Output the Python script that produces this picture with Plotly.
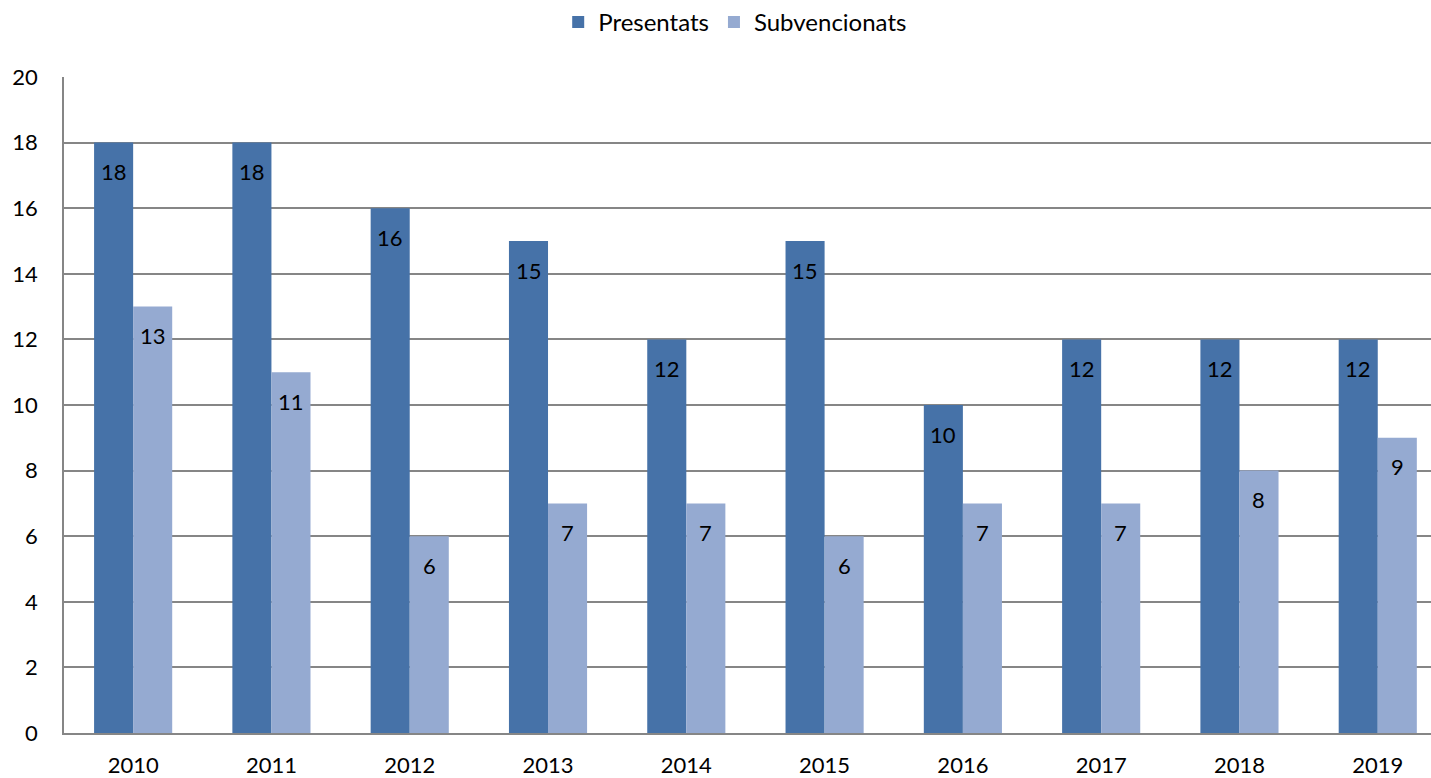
import plotly.graph_objects as go

years = ["2010", "2011", "2012", "2013", "2014", "2015", "2016", "2017", "2018", "2019"]
presentats = [18, 18, 16, 15, 12, 15, 10, 12, 12, 12]
subvencionats = [13, 11, 6, 7, 7, 6, 7, 7, 8, 9]

dark = "#4672A8"
light = "#95AAD1"
font_family = "Lato, Open Sans, sans-serif"

fig = go.Figure()
fig.add_trace(go.Bar(x=years, y=presentats, name="Presentats", marker=dict(color=dark, line=dict(width=0))))
fig.add_trace(go.Bar(x=years, y=subvencionats, name="Subvencionats", marker=dict(color=light, line=dict(width=0))))

ann = []
for i, (p, s) in enumerate(zip(presentats, subvencionats)):
    ann.append(dict(x=i, y=p, xref="x", yref="y", text=str(p), showarrow=False,
                    xshift=-19.5, yshift=-29, yanchor="middle", font=dict(size=22, color="black", family=font_family)))
    ann.append(dict(x=i, y=s, xref="x", yref="y", text=str(s), showarrow=False,
                    xshift=19.5, yshift=-29, yanchor="middle", font=dict(size=22, color="black", family=font_family)))

fig.update_layout(
    width=1431, height=778,
    margin=dict(l=64, r=0, t=77, b=45, autoexpand=False),
    paper_bgcolor="white", plot_bgcolor="white",
    barmode="group", bargap=0.435, bargroupgap=0,
    font=dict(family=font_family, size=22, color="black"),
    legend=dict(orientation="h", x=0.491, xanchor="center", y=1.0, yref="container", yanchor="top",
                font=dict(size=24), itemwidth=30, traceorder="normal"),
    annotations=ann,
    xaxis=dict(type="category", range=[-0.5, 9.385], showline=True, linecolor="#868686", linewidth=1.5,
               showgrid=False, ticks="", ticklabelstandoff=12, tickfont=dict(size=22), automargin=False),
    yaxis=dict(range=[0, 20], dtick=2, showline=True, linecolor="#868686", linewidth=1.5,
               showgrid=True, gridcolor="#868686", gridwidth=1.5, zeroline=False, ticks="",
               ticklabelstandoff=20, tickfont=dict(size=22), automargin=False),
)

fig.write_html("out.html", config={"displayModeBar": False},
               post_script="document.body.style.margin='0';document.body.style.overflow='hidden';")
